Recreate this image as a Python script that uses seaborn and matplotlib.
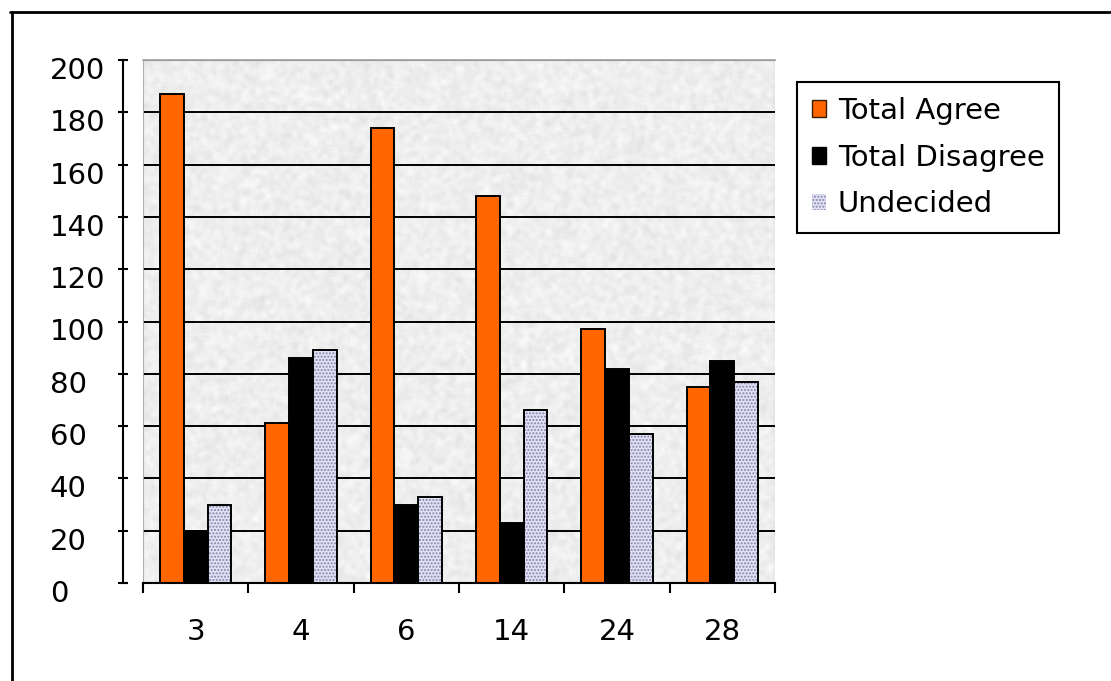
import numpy as np
import pandas as pd
import matplotlib
matplotlib.use("Agg")
import matplotlib.pyplot as plt
import matplotlib.colors as mcolors
from matplotlib.patches import Patch
from matplotlib.lines import Line2D
from matplotlib.transforms import ScaledTranslation
import seaborn as sns

# Survey items and response counts
items = ["3", "4", "6", "14", "24", "28"]
total_agree = [187, 61, 174, 148, 97, 75]
total_disagree = [20, 86, 30, 23, 82, 85]
undecided = [30, 89, 33, 66, 57, 77]
series_names = ["Total Agree", "Total Disagree", "Undecided"]
y_ticks = [0, 20, 40, 60, 80, 100, 120, 140, 160, 180, 200]

series_colors = ["#FF6600", "#000000", "#E2E2F4"]
hatch_color = "#8585AE"
FS = 21

sns.set_theme(style="white")
plt.rcParams["font.family"] = ["DejaVu Sans"]
plt.rcParams["hatch.linewidth"] = 1.0

df = pd.DataFrame({
    "item": items * 3,
    "series": [series_names[0]] * len(items) + [series_names[1]] * len(items)
              + [series_names[2]] * len(items),
    "count": total_agree + total_disagree + undecided,
})

W, H = 1111, 681
fig = plt.figure(figsize=(W / 100, H / 100), dpi=100)
fig.patch.set_facecolor("white")
ax = fig.add_axes([143 / W, 1 - 583 / H, 632 / W, 523 / H])

# speckled backdrop for the plot area
rng = np.random.default_rng(11)
tex = rng.random((260, 320))
k = np.ones(3) / 3
tex = np.apply_along_axis(lambda r: np.convolve(r, k, mode="same"), 1, tex)
tex = np.apply_along_axis(lambda c: np.convolve(c, k, mode="same"), 0, tex)
tex = 0.87 + 0.12 * (tex - tex.min()) / np.ptp(tex)
ax.imshow(tex, cmap="gray", vmin=0, vmax=1, extent=(-0.5, 5.5, 0, 200),
          aspect="auto", zorder=0, interpolation="bilinear")

sns.barplot(data=df, x="item", y="count", hue="series", order=items,
            hue_order=series_names, palette=dict(zip(series_names, series_colors)),
            width=0.68, gap=0, saturation=1, errorbar=None, legend=False,
            edgecolor="black", linewidth=1.4, ax=ax)

# dotted fill on the undecided bars
for bar in ax.containers[2]:
    bar.set_hatch(".....")
    bar._hatch_color = mcolors.to_rgba(hatch_color)
    bar.stale = True

ax.set_xlim(-0.5, 5.5)
ax.set_ylim(0, 200)
ax.set_xlabel("")
ax.set_ylabel("")
ax.set_axisbelow(True)

# horizontal gridlines
ax.set_yticks(y_ticks)
ax.yaxis.grid(True, color="black", linewidth=1.4, zorder=0.5)
ax.xaxis.grid(False)
ax.get_ygridlines()[-1].set_visible(False)

# plot-area frame and axes
ax.spines["top"].set_color("#A8A8A8")
ax.spines["top"].set_linewidth(1.3)
ax.spines["right"].set_visible(False)
ax.spines["bottom"].set_color("black")
ax.spines["bottom"].set_linewidth(1.5)
ax.spines["left"].set_color("black")
ax.spines["left"].set_linewidth(1.5)
ax.spines["left"].set_position(("outward", 14.4))
ax.axvline(-0.5, color="#A8A8A8", linewidth=1.3, zorder=0.6)

ax.tick_params(axis="y", which="major", direction="inout", length=7.5, width=1.5,
               color="black", labelcolor="black", labelsize=FS, pad=49, left=True)
for lab in ax.get_yticklabels():
    lab.set_horizontalalignment("left")
    lab.set_transform(lab.get_transform()
                      + ScaledTranslation(0, -0.08, fig.dpi_scale_trans))

ax.set_xticks(range(len(items)))
ax.set_xticklabels(items)
ax.set_xticks(np.arange(-0.5, len(items)), minor=True)
ax.tick_params(axis="x", which="major", length=0, pad=25, labelsize=FS,
               labelcolor="black", bottom=False)
ax.tick_params(axis="x", which="minor", direction="out", length=7.5, width=1.5,
               color="black", bottom=True)

# legend
handles = [
    Patch(facecolor=series_colors[0], edgecolor="#3a1a00", linewidth=1.0),
    Patch(facecolor=series_colors[1], edgecolor="black", linewidth=1.0),
    Patch(facecolor=series_colors[2], edgecolor="none", hatch="....."),
]
handles[2]._hatch_color = mcolors.to_rgba(hatch_color)
leg = fig.legend(handles, series_names, loc="upper left",
                 bbox_to_anchor=(797 / W, 1 - 82 / H), frameon=True,
                 fancybox=False, framealpha=1, edgecolor="black", fontsize=FS,
                 handlelength=0.5, handleheight=0.5, handletextpad=0.4,
                 labelspacing=0.65, borderpad=0.5, borderaxespad=0)
leg.get_frame().set_linewidth(1.5)
for t in leg.get_texts():
    t.set_color("black")

# chart-area border
fig.add_artist(Line2D([10 / W, 1.0], [1 - 12 / H, 1 - 12 / H],
                      transform=fig.transFigure, color="black", linewidth=2))
fig.add_artist(Line2D([12 / W, 12 / W], [1 - 12 / H, 0.0],
                      transform=fig.transFigure, color="black", linewidth=2))

fig.savefig("out.png", dpi=100)
